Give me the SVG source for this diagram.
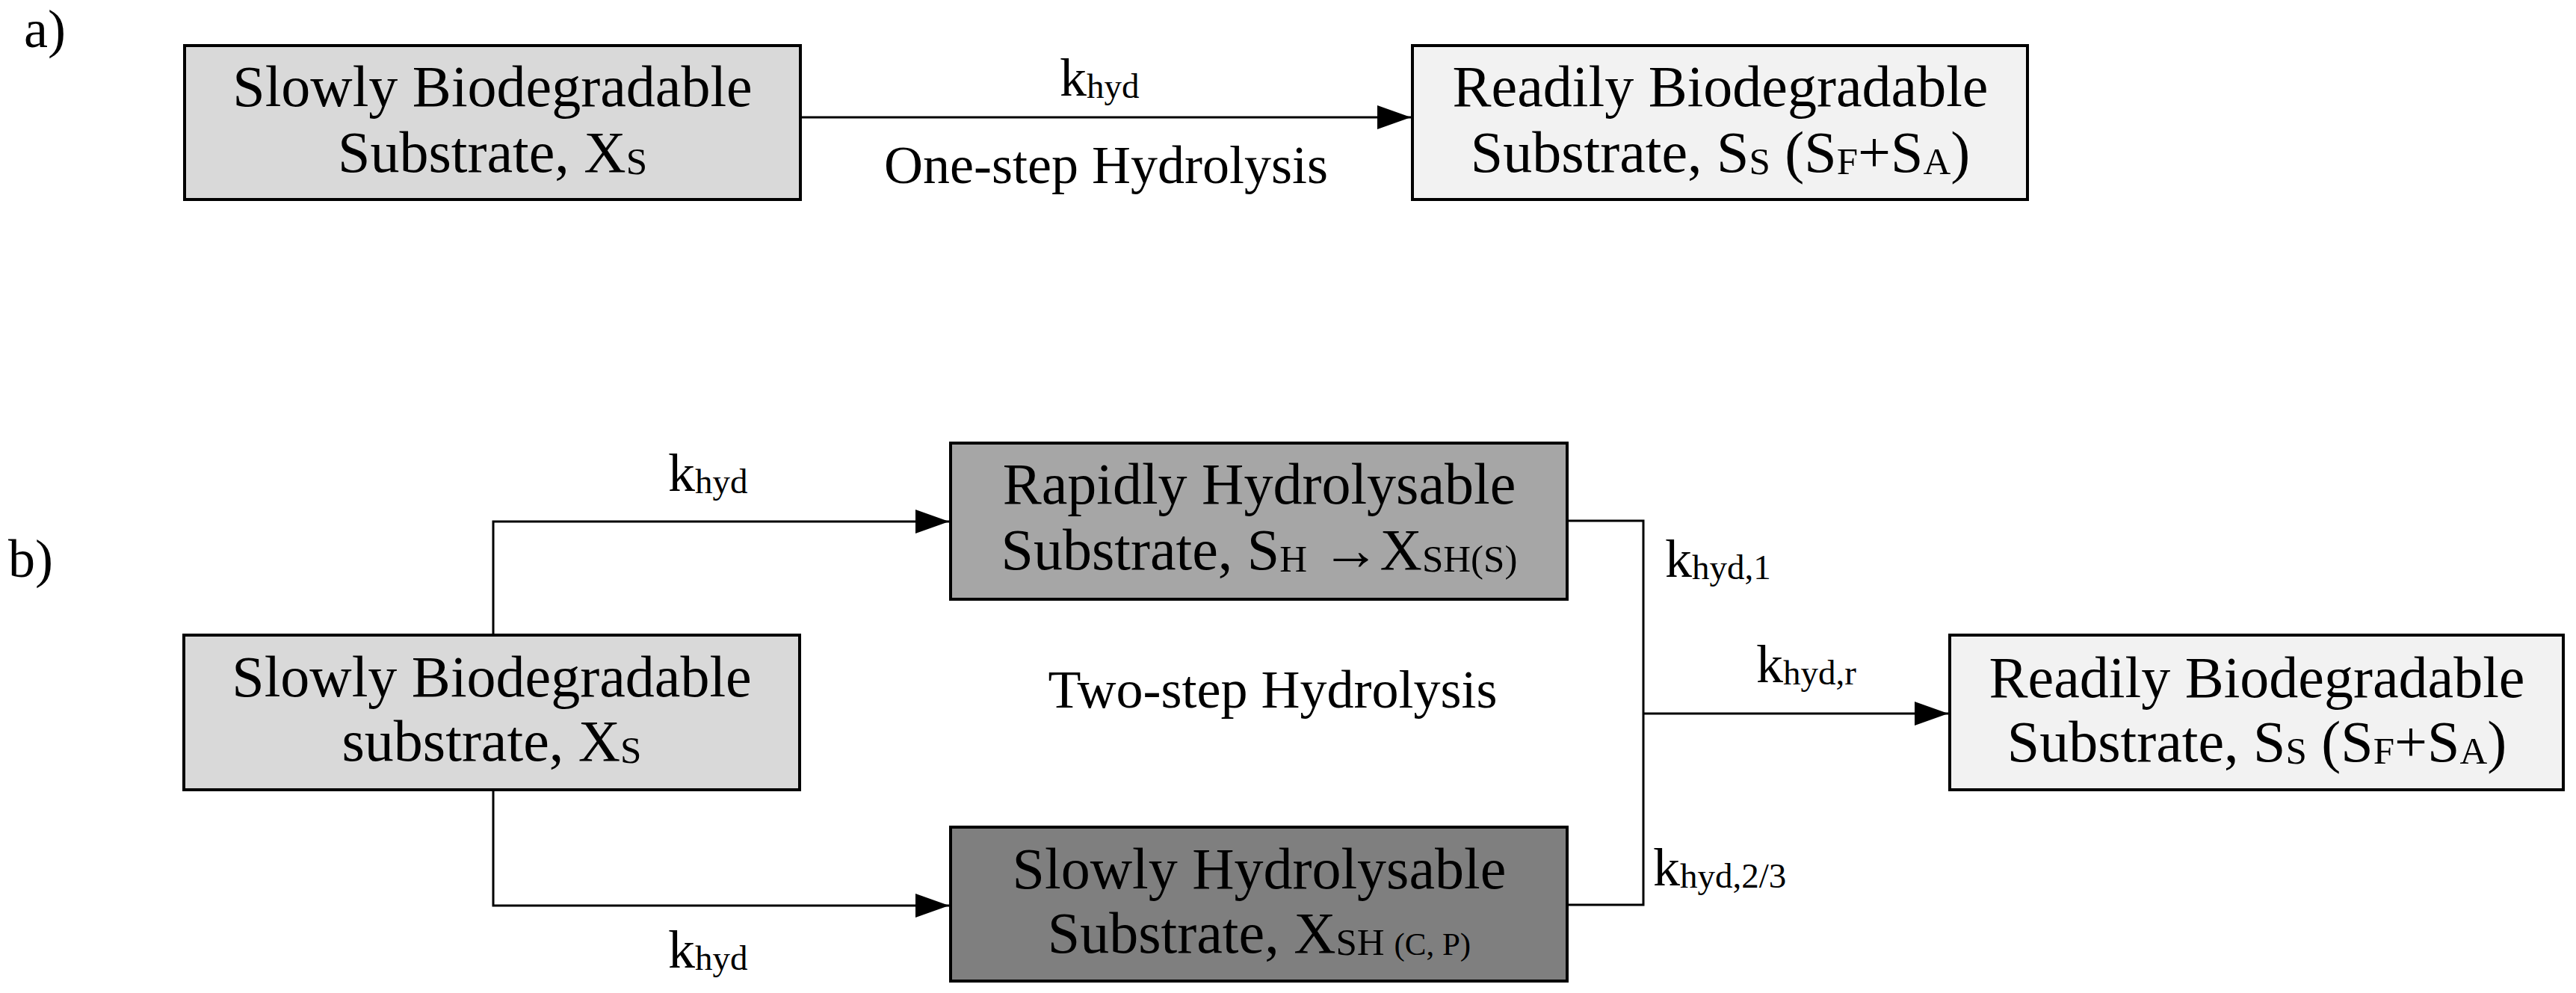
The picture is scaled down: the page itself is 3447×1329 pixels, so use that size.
<svg xmlns="http://www.w3.org/2000/svg" width="3447" height="1329" viewBox="0 0 3447 1329">
<style>
  text { font-family: "Liberation Serif", "Times New Roman", serif; fill: #000; }
  .bt { font-size: 78px; text-anchor: middle; }
  .bs { font-size: 51px; }
  .bss { font-size: 43px; }
  .lb { font-size: 72px; }
  .ls { font-size: 47px; }
  .mid { text-anchor: middle; }
  .box { stroke: #000; stroke-width: 4; }
  .conn { fill: none; stroke: #000; stroke-width: 3; }
</style>
<defs>
  <marker id="ah" markerUnits="userSpaceOnUse" markerWidth="46" markerHeight="34" refX="45" refY="16" orient="auto">
    <path d="M0,0 L45,16 L0,32 Z" fill="#000"/>
  </marker>
</defs>

<g id="panel-labels">
  <text class="lb" x="32" y="63">a)</text>
  <text class="lb" x="11" y="772">b)</text>
</g>

<g id="connectors">
  <path class="conn" d="M1071,157 H1888" marker-end="url(#ah)"/>
  <path class="conn" d="M660,850 V698 H1270" marker-end="url(#ah)"/>
  <path class="conn" d="M660,1057 V1212 H1270" marker-end="url(#ah)"/>
  <path class="conn" d="M2097,697 H2199 V1211 H2097"/>
  <path class="conn" d="M2199,955 H2607" marker-end="url(#ah)"/>
</g>

<g id="connector-labels">
  <text class="lb" x="1418" y="128">k<tspan class="ls" dy="3">hyd</tspan></text>
  <text class="lb mid" x="1480" y="245">One-step Hydrolysis</text>
  <text class="lb" x="894" y="657">k<tspan class="ls" dy="3">hyd</tspan></text>
  <text class="lb" x="894" y="1295">k<tspan class="ls" dy="3">hyd</tspan></text>
  <text class="lb mid" x="1703" y="947">Two-step Hydrolysis</text>
  <text class="lb" x="2228" y="772">k<tspan class="ls" dy="3">hyd,1</tspan></text>
  <text class="lb" x="2350" y="913">k<tspan class="ls" dy="3">hyd,r</tspan></text>
  <text class="lb" x="2212" y="1185">k<tspan class="ls" dy="3">hyd,2/3</tspan></text>
</g>

<g id="a-slowly-biodegradable">
  <rect class="box" x="247" y="61" width="824" height="206" fill="#d9d9d9"/>
  <text class="bt" x="659" y="142">Slowly Biodegradable</text>
  <text class="bt" x="659" y="230">Substrate, X<tspan class="bs" dy="3">S</tspan></text>
</g>

<g id="a-readily-biodegradable">
  <rect class="box" x="1890" y="61" width="823" height="206" fill="#f2f2f2"/>
  <text class="bt" x="2302" y="142">Readily Biodegradable</text>
  <text class="bt" x="2302" y="230">Substrate, S<tspan class="bs" dy="3">S</tspan><tspan dy="-3"> (S</tspan><tspan class="bs" dy="3">F</tspan><tspan dy="-3">+S</tspan><tspan class="bs" dy="3">A</tspan><tspan dy="-3">)</tspan></text>
</g>

<g id="b-slowly-biodegradable">
  <rect class="box" x="246" y="850" width="824" height="207" fill="#d9d9d9"/>
  <text class="bt" x="658" y="932">Slowly Biodegradable</text>
  <text class="bt" x="658" y="1018">substrate, X<tspan class="bs" dy="3">S</tspan></text>
</g>

<g id="b-rapidly-hydrolysable">
  <rect class="box" x="1272" y="593" width="825" height="209" fill="#a6a6a6"/>
  <text class="bt" x="1685" y="674">Rapidly Hydrolysable</text>
  <text class="bt" x="1685" y="762">Substrate, S<tspan class="bs" dy="3">H</tspan><tspan dy="-3"> →X</tspan><tspan class="bs" dy="3">SH(S)</tspan></text>
</g>

<g id="b-slowly-hydrolysable">
  <rect class="box" x="1272" y="1107" width="825" height="206" fill="#7f7f7f"/>
  <text class="bt" x="1685" y="1189">Slowly Hydrolysable</text>
  <text class="bt" x="1685" y="1275">Substrate, X<tspan class="bs" dy="3">SH </tspan><tspan class="bss">(C, P)</tspan></text>
</g>

<g id="b-readily-biodegradable">
  <rect class="box" x="2609" y="850" width="821" height="207" fill="#f2f2f2"/>
  <text class="bt" x="3020" y="933">Readily Biodegradable</text>
  <text class="bt" x="3020" y="1019">Substrate, S<tspan class="bs" dy="3">S</tspan><tspan dy="-3"> (S</tspan><tspan class="bs" dy="3">F</tspan><tspan dy="-3">+S</tspan><tspan class="bs" dy="3">A</tspan><tspan dy="-3">)</tspan></text>
</g>
</svg>
